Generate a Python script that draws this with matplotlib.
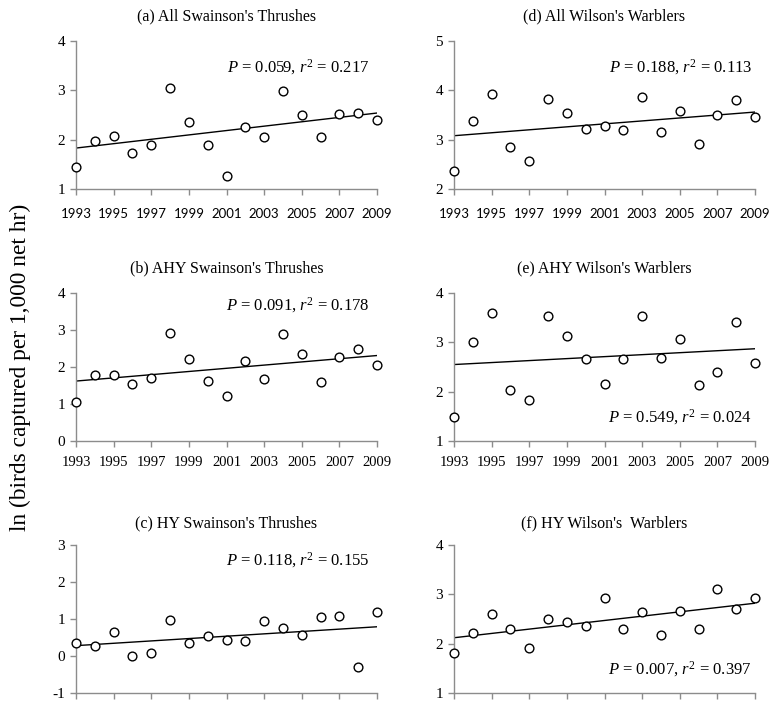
import numpy as np
import matplotlib.pyplot as plt

years = list(range(1993, 2010))

# (a) All Swainson's Thrushes
all_swth = [1.45, 1.98, 2.07, 1.73, 1.89, 3.05, 2.36, 1.89, 1.27, 2.25, 2.05, 2.98, 2.49, 2.05, 2.53, 2.55, 2.40]
# (b) AHY Swainson's Thrushes
ahy_swth = [1.06, 1.79, 1.79, 1.55, 1.70, 2.93, 2.21, 1.62, 1.21, 2.15, 1.67, 2.88, 2.34, 1.59, 2.28, 2.50, 2.06]
# (c) HY Swainson's Thrushes
hy_swth = [0.35, 0.27, 0.65, -0.01, 0.07, 0.96, 0.36, 0.53, 0.44, 0.41, 0.94, 0.75, 0.57, 1.05, 1.08, -0.29, 1.19]
# (d) All Wilson's Warblers
all_wiwa = [2.36, 3.37, 3.92, 2.86, 2.57, 3.83, 3.54, 3.22, 3.28, 3.20, 3.87, 3.16, 3.58, 2.91, 3.50, 3.81, 3.46]
# (e) AHY Wilson's Warblers
ahy_wiwa = [1.48, 3.01, 3.60, 2.04, 1.84, 3.53, 3.13, 2.67, 2.15, 2.67, 3.53, 2.69, 3.06, 2.13, 2.40, 3.41, 2.59]
# (f) HY Wilson's Warblers
hy_wiwa = [1.82, 2.21, 2.60, 2.29, 1.91, 2.50, 2.43, 2.35, 2.92, 2.29, 2.65, 2.18, 2.66, 2.29, 3.11, 2.71, 2.92]

# regression line values at 1993 and 2009
trend_a = [1.83, 2.54]
trend_b = [1.62, 2.31]
trend_c = [0.28, 0.79]
trend_d = [3.08, 3.56]
trend_e = [2.55, 2.87]
trend_f = [2.12, 2.82]

titles = ["(a) All Swainson's Thrushes", "(b) AHY Swainson's Thrushes", "(c) HY Swainson's Thrushes",
          "(d) All Wilson's Warblers", "(e) AHY Wilson's Warblers", "(f) HY Wilson's  Warblers"]
p_vals = ['0.059', '0.091', '0.118', '0.188', '0.549', '0.007']
r2_vals = ['0.217', '0.178', '0.155', '0.113', '0.024', '0.397']
ylims = [(1, 4), (0, 4), (-1, 3), (2, 5), (1, 4), (1, 4)]

series = [all_swth, ahy_swth, hy_swth, all_wiwa, ahy_wiwa, hy_wiwa]
trends = [trend_a, trend_b, trend_c, trend_d, trend_e, trend_f]

serif = 'Liberation Serif'
plt.rcParams['font.family'] = serif
plt.rcParams['axes.unicode_minus'] = False
plt.rcParams['mathtext.fontset'] = 'custom'
plt.rcParams['mathtext.it'] = 'Liberation Serif:italic'
plt.rcParams['mathtext.rm'] = 'Liberation Serif'

fig = plt.figure(figsize=(7.76, 7.05), dpi=100)

W, H = 776, 705
col_x = [76, 454]
ax_w = 301
row_top = [41, 293, 545]
ax_h = 148
# annotation placement (axes fraction) per panel
ann_pos = [(0.975, 0.82), (0.975, 0.92), (0.975, 0.90), (0.99, 0.82), (0.99, 0.16), (0.99, 0.16)]
gray = '#8c8c8c'

for i in range(6):
    col = i // 3
    row = i % 3
    left = col_x[col] / W
    bottom = 1 - (row_top[row] + ax_h) / H
    ax = fig.add_axes([left, bottom, ax_w / W, ax_h / H])

    ax.plot(years, series[i], 'o', ms=6.3, mfc='white', mec='black', mew=1.0, zorder=3, clip_on=False)
    ax.plot([years[0], years[-1]], trends[i], color='black', lw=1.0, zorder=2)

    ax.set_xlim(1993, 2009)
    ax.set_ylim(*ylims[i])
    ax.set_xticks(range(1993, 2010, 2))
    ax.set_yticks(range(ylims[i][0], ylims[i][1] + 1))

    for s in ['top', 'right']:
        ax.spines[s].set_visible(False)
    for s in ['left', 'bottom']:
        ax.spines[s].set_color(gray)
        ax.spines[s].set_linewidth(1.0)
    ax.tick_params(direction='out', length=4, width=1.0, color=gray, labelsize=11, pad=4)
    for lab in ax.get_yticklabels():
        lab.set_fontfamily(serif)

    if row == 0:
        ax.tick_params(axis='x', pad=10)
        for lab in ax.get_xticklabels():
            lab.set_fontfamily('Lato')
            lab.set_fontsize(9.5)
    elif row == 1:
        ax.tick_params(axis='x', pad=7)
        for lab in ax.get_xticklabels():
            lab.set_fontsize(10.5)
    else:
        ax.tick_params(axis='x', labelbottom=False)

    ax.set_title(titles[i], fontsize=11.5, pad=15 if row < 2 else 13)
    ax.text(ann_pos[i][0], ann_pos[i][1],
            r'$P$ = ' + p_vals[i] + r', $r^2$ = ' + r2_vals[i],
            transform=ax.transAxes, ha='right', va='center', fontsize=12)

fig.text(20 / W, 1 - 367 / H, 'ln (birds captured per 1,000 net hr)', rotation=90,
         ha='center', va='center', fontsize=16.8)

fig.savefig('out.png', dpi=100)
